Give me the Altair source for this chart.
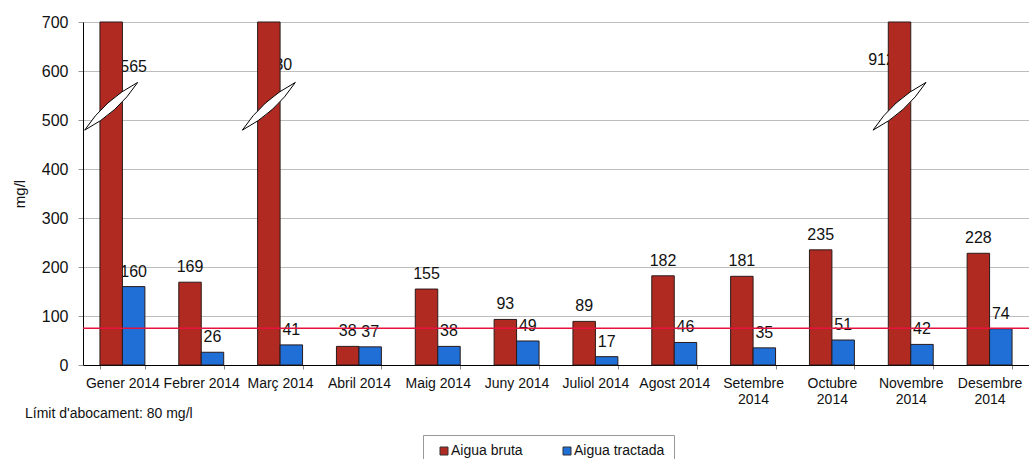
import altair as alt
import pandas as pd

months = ["Gener 2014", "Febrer 2014", "Març 2014", "Abril 2014", "Maig 2014", "Juny 2014",
          "Juliol 2014", "Agost 2014", "Setembre 2014", "Octubre 2014", "Novembre 2014", "Desembre 2014"]
bruta = [1565, 169, 730, 38, 155, 93, 89, 182, 181, 235, 912, 228]
tractada = [160, 26, 41, 37, 38, 49, 17, 46, 35, 51, 42, 74]
series = ["Aigua bruta", "Aigua tractada"]
colors = ["#B02A22", "#1F6FD6"]
limit_line = 75
y_max = 700
break_at = 528
note = "Límit d'abocament: 80 mg/l"

FONT = "Liberation Sans"

rows = []
for m, b, t in zip(months, bruta, tractada):
    rows.append({"month": m, "series": series[0], "value": b})
    rows.append({"month": m, "series": series[1], "value": t})
df = pd.DataFrame(rows)

x_enc = alt.X("month:N", sort=months,
              scale=alt.Scale(paddingInner=0.43, paddingOuter=0.215),
              axis=alt.Axis(title=None, labelFont=FONT, labelFontSize=14, labelColor="#111",
                            labelAngle=0, labelPadding=7, tickBand="extent", tickSize=4,
                            tickColor="#888", domainColor="#000", labelOverlap=False,
                            labelLineHeight=16, labelLimit=200,
                            labelExpr="length(datum.label) > 11 ? split(datum.label, ' ') : datum.label"))
xo_enc = alt.XOffset("series:N", sort=series, scale=alt.Scale(paddingInner=0, paddingOuter=0))
y_scale = alt.Scale(domain=[0, y_max], clamp=True, nice=False)
y_enc = alt.Y("value:Q", scale=y_scale,
              axis=alt.Axis(title="mg/l", titleFont=FONT, titleFontSize=15, titleFontWeight="normal",
                            titleColor="#111", titlePadding=14,
                            values=list(range(0, 701, 100)), labelFont=FONT, labelFontSize=16,
                            labelColor="#111", labelPadding=10, tickSize=5, tickColor="#999",
                            domainColor="#000", gridColor="#bdbdbd", gridWidth=1))

base = alt.Chart(df)

labels = base.transform_filter(alt.datum.value <= y_max).mark_text(
    font=FONT, fontSize=16, baseline="alphabetic", dy=-10, color="#111"
).encode(x=x_enc, xOffset=xo_enc, y=y_enc, text="value:Q")

def clipped_label(month, dx, dy):
    return base.transform_filter(
        (alt.datum.month == month) & (alt.datum.series == series[0])
    ).mark_text(font=FONT, fontSize=16, baseline="alphabetic", dx=dx, dy=dy, color="#111").encode(
        x=x_enc, xOffset=xo_enc, y=alt.Y("value:Q", scale=y_scale), text="value:Q")

cl1 = clipped_label(months[0], 18, 50)
cl2 = clipped_label(months[2], 10, 48)
cl3 = clipped_label(months[10], -18, 43)

bars = base.mark_bar(stroke="#2a1a1a", strokeWidth=1).encode(
    x=x_enc, xOffset=xo_enc, y=y_enc,
    color=alt.Color("series:N", sort=series, scale=alt.Scale(domain=series, range=colors),
                    legend=alt.Legend(title=None, orient="none", legendX=340, legendY=413,
                                      direction="horizontal", symbolType="square", symbolSize=64,
                                      symbolStrokeColor="#333", symbolStrokeWidth=1,
                                      labelFont=FONT, labelFontSize=14, labelColor="#111",
                                      strokeColor="#999", fillColor="white", padding=9,
                                      symbolOffset=5, labelOffset=0, columnPadding=32))
)

rule = alt.Chart(pd.DataFrame({"lim": [limit_line]})).mark_rule(
    color="#E8123F", strokeWidth=1.5).encode(y=alt.Y("lim:Q", scale=y_scale))

lens = "M -1 0.9 Q -0.25 -0.25 1 -0.9 Q 0.25 0.25 -1 0.9 Z"
breaks = base.transform_filter(alt.datum.value > y_max).transform_calculate(
    brk=str(break_at)).mark_point(
    shape=lens, size=2809, filled=True, fill="white", stroke="#000", strokeWidth=1, opacity=1
).encode(x=x_enc, xOffset=xo_enc, y=alt.Y("brk:Q", scale=y_scale))

note_layer = alt.Chart(pd.DataFrame({"t": [note]})).mark_text(
    font=FONT, fontSize=14, align="left", baseline="middle", color="#111"
).encode(x=alt.value(-58), y=alt.value(392), text="t:N")

chart = alt.layer(labels, cl1, cl2, cl3, bars, rule, breaks, note_layer).properties(
    width=946, height=343,
    autosize=alt.AutoSizeParams(type="none"),
    padding={"left": 83, "top": 22, "right": 0, "bottom": 94},
).configure_view(stroke=None).configure(background="white")

chart.save("out.html", embed_options={"renderer": "svg", "actions": False})
